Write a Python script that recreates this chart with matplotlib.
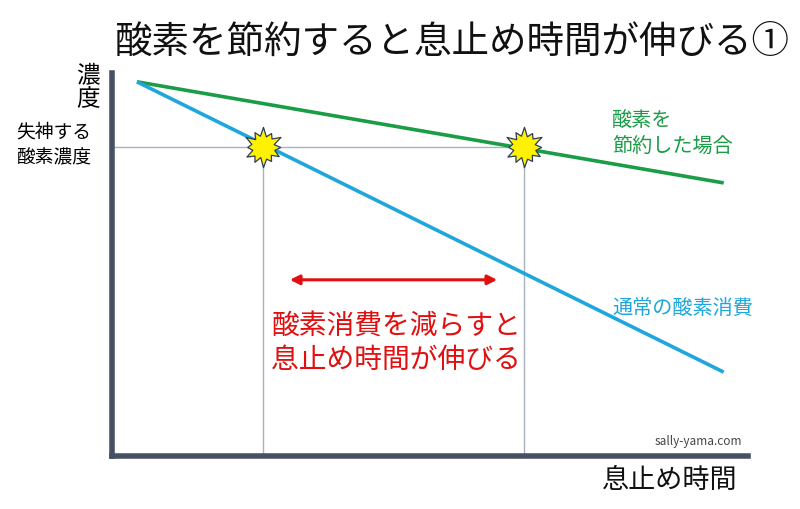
import numpy as np
import matplotlib
matplotlib.use("Agg")
import matplotlib.pyplot as plt
from matplotlib.path import Path

plt.rcParams['font.family'] = ['Noto Sans CJK JP', 'DejaVu Sans']

# ---- data ----
time_start, time_end = 0.39, 9.56
conc_start = 9.77
conc_end_saving = 7.13     # 酸素を節約した場合
conc_end_normal = 2.19     # 通常の酸素消費
faint_level = 8.08         # 失神する酸素濃度
faint_time_normal = 2.36
faint_time_saving = 6.44
arrow_from, arrow_to, arrow_y = 2.78, 6.02, 4.6

title = "酸素を節約すると息止め時間が伸びる①"
ylabel = "濃\n度"
xlabel = "息止め時間"
faint_label = "失神する\n酸素濃度"
saving_label = "酸素を\n節約した場合"
normal_label = "通常の酸素消費"
note = "酸素消費を減らすと\n息止め時間が伸びる"
watermark = "sally-yama.com"

W, H = 800, 509
fig = plt.figure(figsize=(W / 100, H / 100), dpi=100)
ax = fig.add_axes([112 / W, (H - 456) / H, (748 - 112) / W, (456 - 73) / H])
ax.set_xlim(0, 9.94)
ax.set_ylim(0, 10)
ax.set_xticks([])
ax.set_yticks([])
for s in ['top', 'right']:
    ax.spines[s].set_visible(False)
for s in ['left', 'bottom']:
    ax.spines[s].set_color('#485163')
    ax.spines[s].set_linewidth(4)

grid_c = '#a7b1c2'
ax.plot([0, faint_time_saving], [faint_level, faint_level], color=grid_c, lw=1.0, zorder=1)
ax.plot([faint_time_normal, faint_time_normal], [0, faint_level], color=grid_c, lw=1.0, zorder=1)
ax.plot([faint_time_saving, faint_time_saving], [0, faint_level], color=grid_c, lw=1.0, zorder=1)

ax.plot([time_start, time_end], [conc_start, conc_end_saving], color='#1b9c46', lw=2.6,
        solid_capstyle='butt', zorder=2)
ax.plot([time_start, time_end], [conc_start, conc_end_normal], color='#1ea6dd', lw=2.6,
        solid_capstyle='butt', zorder=2)

# explosion star marker
radii = [1.0, 0.58, 0.85, 0.55, 1.0, 0.6, 0.78, 0.55, 0.95, 0.6, 0.85, 0.52, 1.0, 0.6, 0.8, 0.55,
         0.9, 0.58, 0.85, 0.55, 1.0, 0.6, 0.8, 0.55]
angs = np.linspace(0, 2 * np.pi, len(radii), endpoint=False) + np.pi / 2
verts = [(r * np.cos(a), r * np.sin(a)) for r, a in zip(radii, angs)]
verts.append(verts[0])
star = Path(verts, [Path.MOVETO] + [Path.LINETO] * (len(verts) - 2) + [Path.CLOSEPOLY])
ax.plot([faint_time_normal, faint_time_saving], [faint_level, faint_level], linestyle='none',
        marker=star, markersize=29, markerfacecolor='#fff200', markeredgecolor='#2e3c5a',
        markeredgewidth=0.9, zorder=4)

ax.annotate('', xy=(arrow_from, arrow_y), xytext=(arrow_to, arrow_y),
            arrowprops=dict(arrowstyle='<|-|>', color='#e01010', lw=2.2,
                            mutation_scale=14, shrinkA=0, shrinkB=0), zorder=3)

ax.text(4.44, 2.95, note, color='#e01010', fontsize=20, ha='center', va='center',
        linespacing=1.2, zorder=3)

fig.text(452 / W, 1 - 42 / H, title, fontsize=27, ha='center', va='center', color='#111111')
fig.text(88 / W, 1 - 88 / H, ylabel, fontsize=17, ha='center', va='center', linespacing=1.0)
fig.text(54 / W, 1 - 145 / H, faint_label, fontsize=13.5, ha='center', va='center',
         linespacing=1.3)
fig.text(612 / W, 1 - 134 / H, saving_label, fontsize=14.5, ha='left', va='center',
         color='#1b9c46', linespacing=1.25)
fig.text(612 / W, 1 - 308 / H, normal_label, fontsize=14.5, ha='left', va='center',
         color='#1ea6dd')
fig.text(738 / W, 1 - 480 / H, xlabel, fontsize=19.5, ha='right', va='center', color='#111111')
fig.text(742 / W, 1 - 441 / H, watermark, fontsize=8.5, ha='right', va='center',
         color='#444444')

fig.savefig('out.png', dpi=100)
